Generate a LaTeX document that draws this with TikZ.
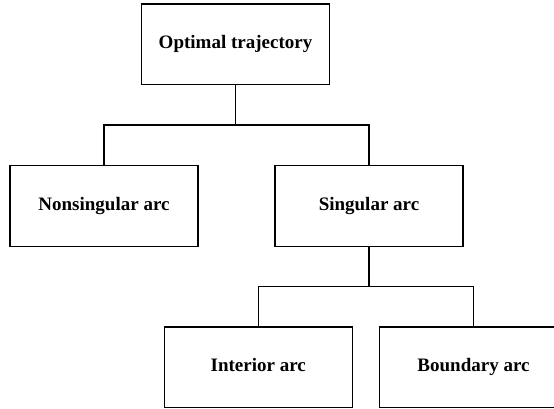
\documentclass[tikz,border=0pt]{standalone}
\usepackage{fontspec}
\setmainfont{Liberation Serif}
\tikzset{
  arcbox/.style={draw,line width=1.2pt,minimum width=188pt,minimum height=80.5pt,
    inner sep=0pt,text height=13pt,text depth=4pt,
    font=\bfseries\fontsize{19}{23}\selectfont},
  branch/.style={line width=1.2pt}
}

\begin{document}
\begin{tikzpicture}[x=1pt,y=1pt]
  \clip (0,0) rectangle (554,409);
  \node[arcbox] (opt)  at (235.5,364.7) {Optimal trajectory};
  \node[arcbox] (nons) at (104,203)     {Nonsingular arc};
  \node[arcbox] (sing) at (369,203)     {Singular arc};
  \node[arcbox] (inte) at (258.2,41.8)  {Interior arc};
  \node[arcbox] (boun) at (473.5,41.8)  {Boundary arc};
  \coordinate (B1) at (235.5,284);
  \coordinate (B2) at (369,122.3);
  \draw[branch] (opt.south) -- (B1);
  \draw[branch] (nons.north) |- (B1) -| (sing.north);
  \draw[branch] (sing.south) -- (B2);
  \draw[branch] (inte.north) |- (B2) -| (boun.north);
\end{tikzpicture}
\end{document}
